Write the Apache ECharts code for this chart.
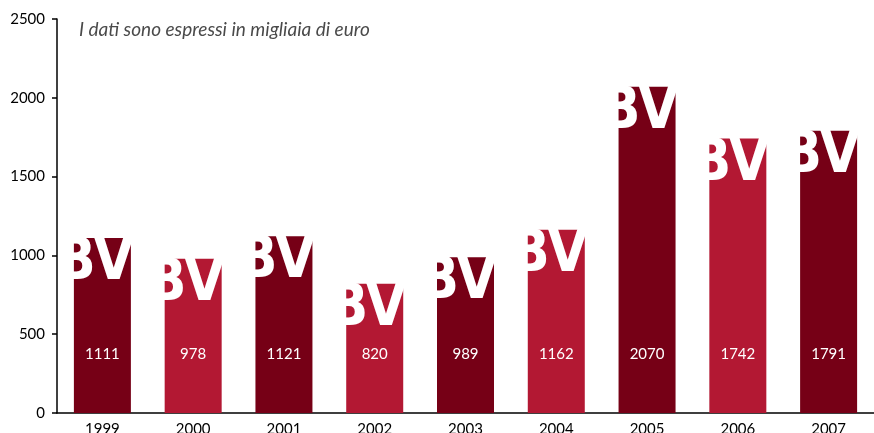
<!DOCTYPE html>
<html>
<head>
<meta charset="utf-8">
<script src="https://cdn.jsdelivr.net/npm/echarts@6/dist/echarts.min.js"></script>
<style>
  html, body { margin: 0; padding: 0; background: #fff; }
  #chart1 { width: 874px; height: 433px; }
</style>
</head>
<body>
<div id="chart1"></div>
<script>
var years = ['1999', '2000', '2001', '2002', '2003', '2004', '2005', '2006', '2007'];
var values = [1111, 978, 1121, 820, 989, 1162, 2070, 1742, 1791];
var yTicks = [0, 500, 1000, 1500, 2000, 2500];
var note = 'I dati sono espressi in migliaia di euro';

var dark = '#760016';
var light = '#b31833';

var myChart1 = echarts.init(document.getElementById('chart1'));
myChart1.setOption({
    animation: false,
    title: {
        text: note,
        left: 74,
        top: 15,
        textStyle: {
            fontFamily: 'Lato',
            fontStyle: 'italic',
            fontWeight: 'normal',
            fontSize: 19,
            color: '#4a4a4a'
        }
    },
    grid: { left: 57, right: 0, top: 19, bottom: 20, outerBoundsMode: 'none', containLabel: false },
    xAxis: {
        type: 'category',
        data: years,
        axisLine: { lineStyle: { color: '#000', width: 1.5 } },
        axisTick: { length: 6, lineStyle: { color: '#000', width: 1.5 } },
        axisLabel: { color: '#000', fontSize: 15, margin: 9, fontFamily: 'Lato' }
    },
    yAxis: {
        type: 'value',
        min: yTicks[0],
        max: yTicks[yTicks.length - 1],
        interval: 500,
        splitLine: { show: false },
        axisLine: { show: true, lineStyle: { color: '#000', width: 1.5 } },
        axisTick: { show: true, length: 5, lineStyle: { color: '#000', width: 1.5 } },
        axisLabel: {
            color: '#000', fontSize: 15, margin: 12, fontFamily: 'Lato',
            formatter: function (v) { return String(v); }
        }
    },
    series: [{
        name: 'BV',
        type: 'bar',
        data: values,
        barWidth: 57,
        itemStyle: {
            color: function (p) { return p.dataIndex % 2 === 0 ? dark : light; }
        },
        label: {
            show: true,
            position: 'insideTopRight',
            distance: 0,
            offset: [3, -3],
            formatter: 'BV',
            color: '#fff',
            fontFamily: 'Liberation Sans Narrow, DejaVu Sans Condensed, sans-serif',
            fontWeight: 'bold',
            fontSize: 58,
            lineHeight: 58
        }
    }, {
        name: 'valori',
        type: 'bar',
        data: values,
        barWidth: 57,
        barGap: '-100%',
        z: 5,
        itemStyle: { color: 'transparent' },
        label: {
            show: true,
            position: 'insideBottom',
            distance: 51,
            color: '#fff',
            fontSize: 15,
            fontFamily: 'Lato'
        }
    }]
});
</script>
</body>
</html>
